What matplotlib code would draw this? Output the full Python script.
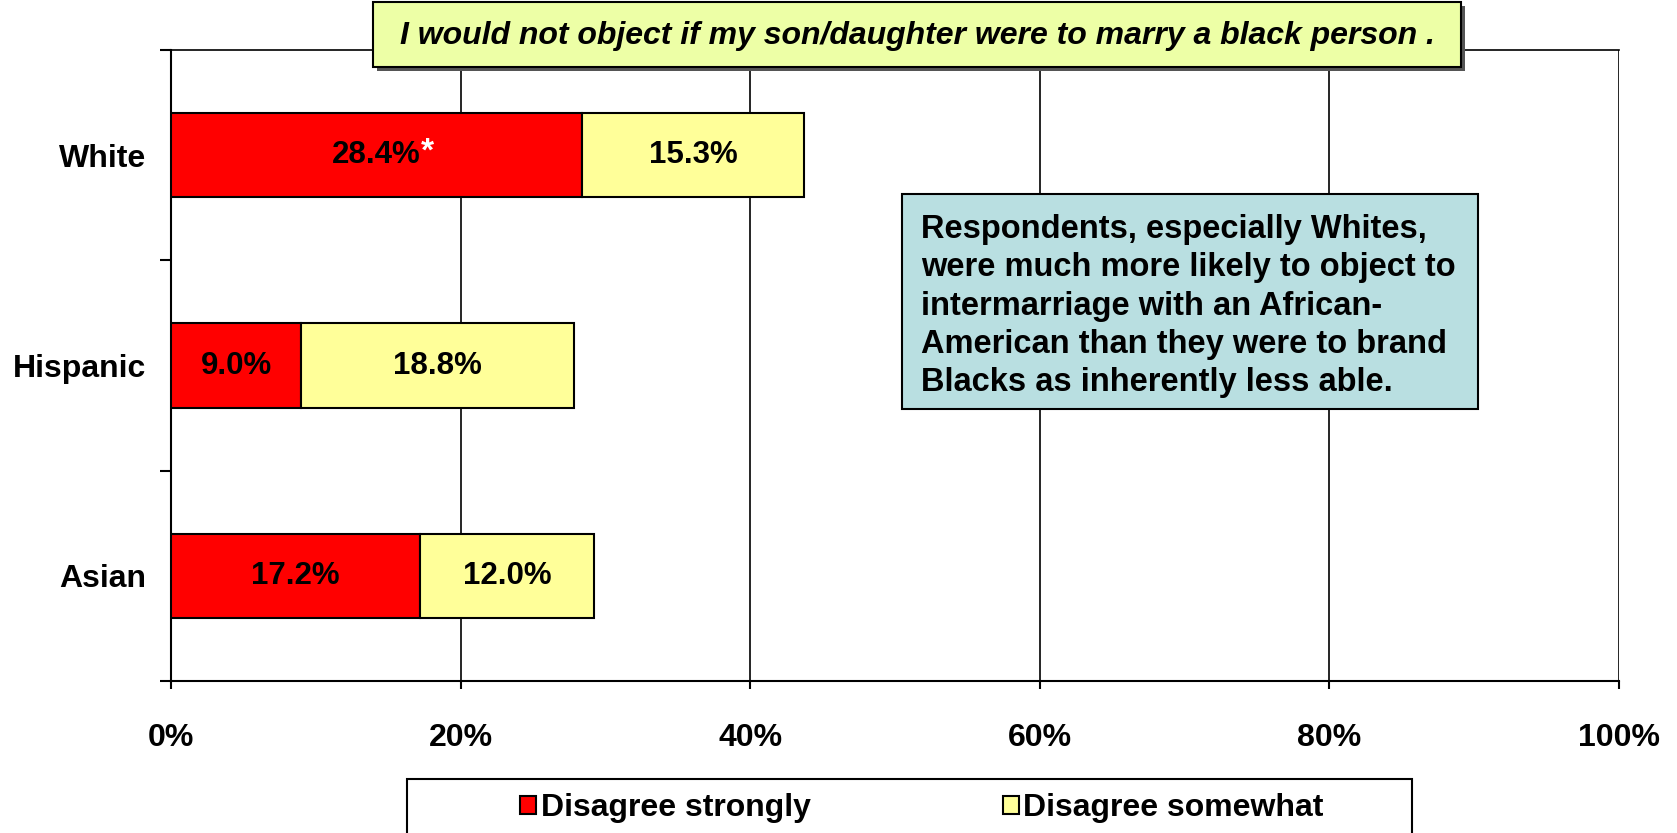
import matplotlib
matplotlib.use('Agg')
import matplotlib.pyplot as plt
from matplotlib.patches import Rectangle, Patch

# Survey data
groups = ['White', 'Hispanic', 'Asian']
strongly = [28.4, 9.0, 17.2]
somewhat = [15.3, 18.8, 12.0]
series_names = ['Disagree strongly', 'Disagree somewhat']
xticks = [0, 20, 40, 60, 80, 100]

plt.rcParams['font.family'] = ['Liberation Sans', 'DejaVu Sans']

fig = plt.figure(figsize=(16.77, 8.33), dpi=100)
ax = fig.add_axes([171 / 1677, 1 - 681 / 833, 1448 / 1677, 631 / 833])

y = [2, 1, 0]
ax.barh(y, strongly, height=0.4, color='#FF0000', edgecolor='black', linewidth=1.5, zorder=3)
ax.barh(y, somewhat, left=strongly, height=0.4, color='#FFFF99', edgecolor='black', linewidth=1.5, zorder=3)

for yi, s, w in zip(y, strongly, somewhat):
    t = ax.text(s / 2, yi, f'{s:.1f}%', ha='center', va='center', fontsize=22.5,
                fontweight='bold', zorder=4)
    if yi == 2:
        ax.annotate('*', xy=(1, 0.62), xycoords=t, ha='left', va='center', color='white',
                    fontsize=24, fontweight='bold', zorder=4)
    ax.text(s + w / 2, yi, f'{w:.1f}%', ha='center', va='center', fontsize=22.5,
            fontweight='bold', zorder=4)

ax.set_xlim(0, 100)
ax.set_ylim(-0.5, 2.5)
ax.set_xticks(xticks)
ax.set_xticklabels([f'{v}%' for v in xticks], fontsize=23, fontweight='bold')
ax.set_yticks(y)
ax.set_yticklabels(groups, fontsize=23, fontweight='bold')
ax.set_yticks([-0.5, 0.5, 1.5, 2.5], minor=True)
ax.tick_params(axis='y', which='major', length=0, pad=18)
ax.tick_params(axis='y', which='minor', length=8, width=1.5, direction='out')
ax.tick_params(axis='x', length=6, width=1.5, pad=24)
ax.grid(axis='x', color='black', linewidth=1.2, zorder=0)
for side in ['left', 'bottom']:
    ax.spines[side].set_linewidth(1.5)
ax.spines['right'].set_visible(False)
ax.spines['top'].set_linewidth(1.2)

# title box
W, H = 1677, 833
fig.add_artist(Rectangle((377 / W, 1 - 71 / H), 1088 / W, 65 / H, transform=fig.transFigure,
                         facecolor='#555555', edgecolor='none', zorder=5))
fig.add_artist(Rectangle((373 / W, 1 - 67 / H), 1088 / W, 65 / H, transform=fig.transFigure,
                         facecolor='#EDFFA6', edgecolor='black', linewidth=1.5, zorder=6))
fig.text(917 / W, 1 - 36 / H, 'I would not object if my son/daughter were to marry a black person .',
         ha='center', va='center', fontsize=23, fontweight='bold', style='italic', zorder=7)

# annotation box
fig.add_artist(Rectangle((902 / W, 1 - 409 / H), 576 / W, 215 / H, transform=fig.transFigure,
                         facecolor='#B9DFE1', edgecolor='black', linewidth=1.5, zorder=5))
note = ('Respondents, especially Whites,\nwere much more likely to object to\n'
        'intermarriage with an African-\nAmerican than they were to brand\n'
        'Blacks as inherently less able.')
fig.text(921 / W, 1 - 306 / H, note, ha='left', va='center', fontsize=23.5,
         fontweight='bold', linespacing=1.3, zorder=6)

# legend box
fig.add_artist(Rectangle((407 / W, -0.01), 1005 / W, 0.01 + 54 / H, transform=fig.transFigure,
                         facecolor='white', edgecolor='black', linewidth=1.5, zorder=5))
handles = [Patch(facecolor='#FF0000', edgecolor='black', linewidth=1.5),
           Patch(facecolor='#FFFF99', edgecolor='black', linewidth=1.5)]
leg = fig.legend(handles, series_names, loc='center', bbox_to_anchor=(922 / W, 1 - 808 / H),
                 ncol=2, frameon=False, handlelength=0.5, handleheight=0.5, handletextpad=0.15,
                 columnspacing=6.0, prop={'weight': 'bold', 'size': 23})
leg.set_zorder(6)

fig.savefig('out.png', dpi=100)
